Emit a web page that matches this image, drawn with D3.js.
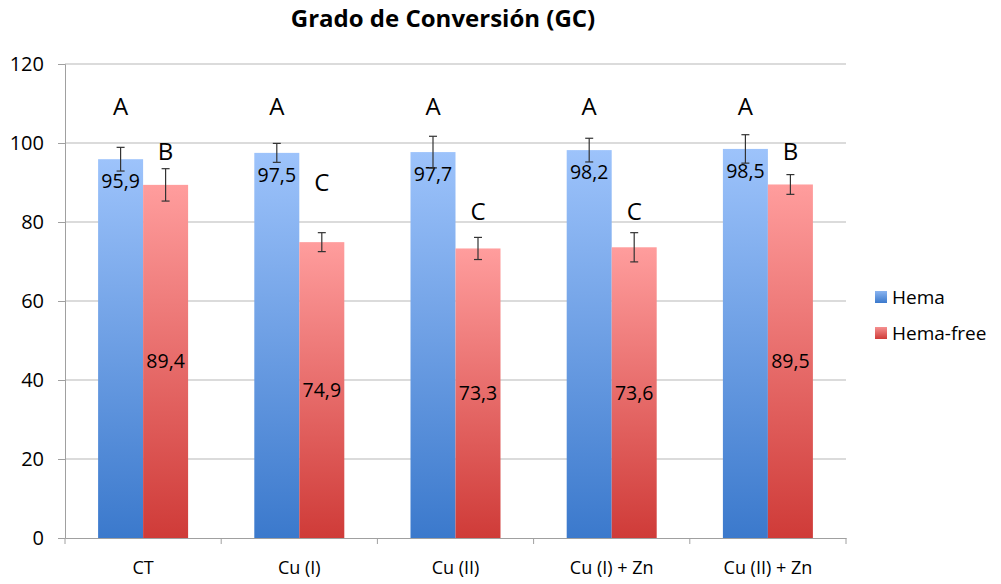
<!DOCTYPE html>
<html>
<head>
<meta charset="utf-8">
<script src="https://cdn.jsdelivr.net/npm/d3@7"></script>
<style>
  body { margin: 0; background: #fff; }
  text { font-family: "Open Sans", "Noto Sans", sans-serif; fill: #000; }
</style>
</head>
<body>
<svg id="chart" width="1001" height="584"></svg>
<script>
// data
var categories = ["CT", "Cu (I)", "Cu (II)", "Cu (I) + Zn", "Cu (II) + Zn"];
var series = ["Hema", "Hema-free"];
var hema = [95.9, 97.5, 97.7, 98.2, 98.5];
var hemaFree = [89.4, 74.9, 73.3, 73.6, 89.5];
var hemaErr = [3.0, 2.4, 4.0, 3.0, 3.6];
var hemaFreeErr = [4.1, 2.4, 2.8, 3.7, 2.5];
var hemaLetters = ["A", "A", "A", "A", "A"];
var hemaFreeLetters = ["B", "C", "C", "C", "B"];
var hemaLetterAt = [109.3, 109.3, 109.3, 109.3, 109.3];
var hemaFreeLetterAt = [98.0, 90.2, 82.8, 82.8, 98.0];
var yTicks = [0, 20, 40, 60, 80, 100, 120];

var svg = d3.select("#chart");
var mLeft = 65, mRight = 846, mTop = 64, mBottom = 538;

var x = d3.scaleBand().domain(categories).range([mLeft, mRight]).paddingInner(0).paddingOuter(0);
var x1 = d3.scaleBand().domain(series).range([0, 90]);
var y = d3.scaleLinear().domain([0, 120]).range([mBottom, mTop]);

var defs = svg.append("defs");
function grad(id, c1, c2) {
  var g = defs.append("linearGradient").attr("id", id)
    .attr("x1", 0).attr("y1", 0).attr("x2", 0).attr("y2", 1);
  g.append("stop").attr("offset", "0%").attr("stop-color", c1);
  g.append("stop").attr("offset", "100%").attr("stop-color", c2);
}
grad("gBlue", "#9dc3fb", "#3b79cc");
grad("gRed", "#ff9d9d", "#cf3b38");
grad("gBlueL", "#8ab4f0", "#3b79cc");
grad("gRedL", "#f59090", "#cf3b38");

// title
svg.append("text").attr("x", 443).attr("y", 27)
  .attr("text-anchor", "middle").style("font-size", "24px").style("font-weight", "bold")
  .text("Grado de Conversión (GC)");

// gridlines
svg.append("g").selectAll("line")
  .data(yTicks.filter(d => d > 0))
  .enter().append("line")
  .attr("x1", mLeft).attr("x2", mRight)
  .attr("y1", d => y(d)).attr("y2", d => y(d))
  .attr("stroke", "#b8b8b8").attr("stroke-width", 1.2);

// y axis
var yAxis = svg.append("g").attr("transform", "translate(" + mLeft + ",0)")
  .call(d3.axisLeft(y).tickValues(yTicks).tickSize(7).tickPadding(14));
yAxis.select(".domain").attr("stroke", "#a0a0a0");
yAxis.selectAll(".tick line").attr("stroke", "#a0a0a0");
yAxis.selectAll("text").style("font-size", "20px").style("font-family", "'Open Sans', sans-serif").attr("fill", "#000");

// x axis
var xAxis = svg.append("g").attr("transform", "translate(0," + mBottom + ")")
  .call(d3.axisBottom(x).tickSize(0).tickPadding(23));
xAxis.select(".domain").attr("stroke", "#a0a0a0");
xAxis.selectAll("text").style("font-size", "18px").style("font-family", "'Open Sans', sans-serif").attr("fill", "#000");
svg.append("g").selectAll("line")
  .data(categories.concat(["end"]))
  .enter().append("line")
  .attr("x1", (d, i) => mLeft + i * x.bandwidth()).attr("x2", (d, i) => mLeft + i * x.bandwidth())
  .attr("y1", mBottom).attr("y2", mBottom + 6)
  .attr("stroke", "#a0a0a0");

var rows = categories.map(function (c, i) {
  return { cat: c, vals: [
    { s: "Hema", v: hema[i], e: hemaErr[i], l: hemaLetters[i], la: hemaLetterAt[i] },
    { s: "Hema-free", v: hemaFree[i], e: hemaFreeErr[i], l: hemaFreeLetters[i], la: hemaFreeLetterAt[i] }
  ] };
});

var groups = svg.append("g").selectAll("g")
  .data(rows).enter().append("g")
  .attr("transform", d => "translate(" + (x(d.cat) + (x.bandwidth() - 90) / 2) + ",0)");

var bars = groups.selectAll("g").data(d => d.vals).enter().append("g");

bars.append("rect")
  .attr("x", d => x1(d.s)).attr("width", x1.bandwidth())
  .attr("y", d => y(d.v)).attr("height", d => y(0) - y(d.v))
  .attr("fill", d => d.s == "Hema" ? "url(#gBlue)" : "url(#gRed)");

// value labels
bars.append("text")
  .attr("x", d => x1(d.s) + x1.bandwidth() / 2)
  .attr("y", d => d.s == "Hema" ? y(d.v) + 29 : (y(d.v) + y(0)) / 2 + 7)
  .attr("text-anchor", "middle").style("font-size", "19.5px")
  .text(d => String(d.v.toFixed(1)).replace(".", ","));

// error bars
var eb = bars.append("g").attr("stroke", "#333").attr("stroke-width", 1.2);
eb.append("line")
  .attr("x1", d => x1(d.s) + x1.bandwidth() / 2).attr("x2", d => x1(d.s) + x1.bandwidth() / 2)
  .attr("y1", d => y(d.v + d.e)).attr("y2", d => y(d.v - d.e));
eb.append("line")
  .attr("x1", d => x1(d.s) + x1.bandwidth() / 2 - 4).attr("x2", d => x1(d.s) + x1.bandwidth() / 2 + 4)
  .attr("y1", d => y(d.v + d.e)).attr("y2", d => y(d.v + d.e));
eb.append("line")
  .attr("x1", d => x1(d.s) + x1.bandwidth() / 2 - 4).attr("x2", d => x1(d.s) + x1.bandwidth() / 2 + 4)
  .attr("y1", d => y(d.v - d.e)).attr("y2", d => y(d.v - d.e));

// letters
bars.append("text")
  .attr("x", d => x1(d.s) + x1.bandwidth() / 2)
  .attr("y", d => y(d.la) + 9)
  .attr("text-anchor", "middle").style("font-size", "24px")
  .text(d => d.l);

// legend
var leg = svg.append("g").selectAll("g").data(series).enter().append("g")
  .attr("transform", (d, i) => "translate(875," + (291 + i * 36) + ")");
leg.append("rect").attr("width", 12).attr("height", 12)
  .attr("fill", (d, i) => i == 0 ? "url(#gBlueL)" : "url(#gRedL)");
leg.append("text").attr("x", 17).attr("y", 13).style("font-size", "19px").text(d => d);
</script>
</body>
</html>
